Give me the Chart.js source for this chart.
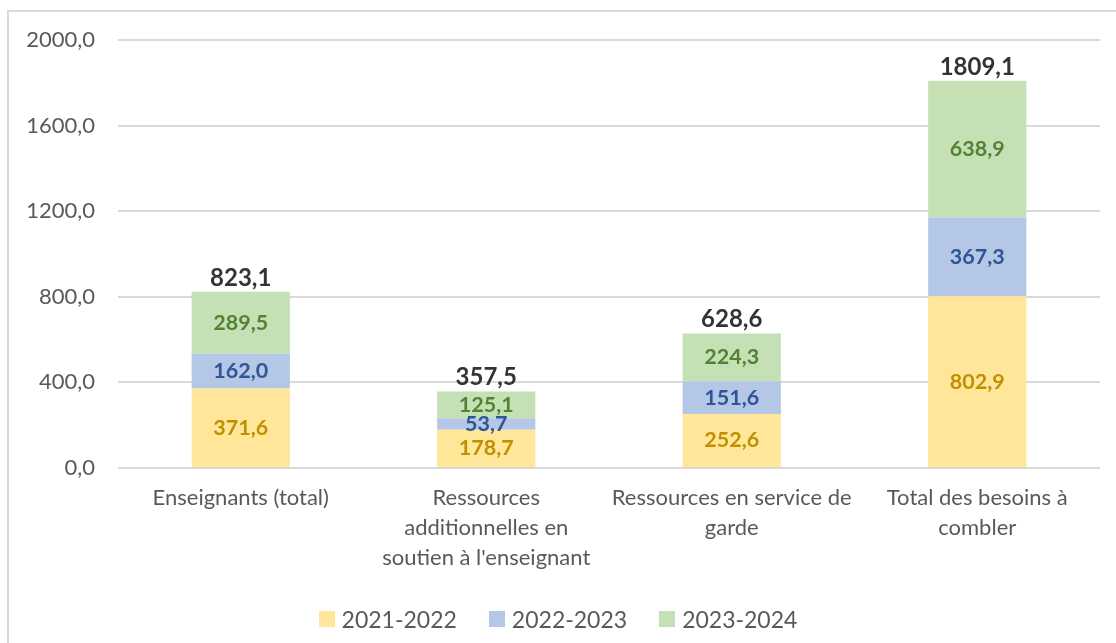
<!DOCTYPE html>
<html lang="fr">
<head>
    <meta charset="UTF-8">
    <title>Besoins à combler</title>
    <script src="https://cdn.jsdelivr.net/npm/chart.js"></script>
    <style>
        body {
            margin: 0;
            width: 1116px;
            height: 643px;
            overflow: hidden;
            background: white;
            font-family: 'Lato', 'Open Sans', sans-serif;
        }
        #frame {
            position: absolute;
            left: 7px;
            top: 10px;
            width: 1140px;
            height: 660px;
            border: 2px solid #d9d9d9;
        }
        #wrap {
            position: absolute;
            left: 0;
            top: 0;
            width: 1116px;
            height: 643px;
        }
        #legend {
            position: absolute;
            left: 0;
            top: 605px;
            width: 1116px;
            display: flex;
            justify-content: center;
            gap: 32px;
            font-size: 23px;
            color: #595959;
        }
        .item { display: flex; align-items: center; gap: 7px; }
        .box { width: 16px; height: 16px; }
    </style>
</head>
<body>
    <div id="frame"></div>
    <div id="wrap"><canvas id="chart" width="1116" height="643"></canvas></div>
    <div id="legend"></div>

    <script>
        // données
        const categories = [
            'Enseignants (total)',
            ['Ressources', 'additionnelles en', "soutien à l'enseignant"],
            ['Ressources en service de', 'garde'],
            ['Total des besoins à', 'combler']
        ];
        const seriesNames = ['2021-2022', '2022-2023', '2023-2024'];
        const values2021 = [371.6, 178.7, 252.6, 802.9];
        const values2022 = [162.0, 53.7, 151.6, 367.3];
        const values2023 = [289.5, 125.1, 224.3, 638.9];
        const totals = [823.1, 357.5, 628.6, 1809.1];

        const fillColors = ['#FFE699', '#B4C7E7', '#C5E0B4'];
        const labelColors = ['#BF9000', '#2F5597', '#548235'];

        const fmt = v => v.toFixed(1).replace('.', ',');

        // étiquettes de données (pas de plugin externe disponible)
        const barLabels = {
            id: 'barLabels',
            afterDatasetsDraw(chart) {
                const ctx = chart.ctx;
                ctx.save();
                ctx.textAlign = 'center';
                ctx.textBaseline = 'middle';
                chart.data.datasets.forEach((ds, i) => {
                    const meta = chart.getDatasetMeta(i);
                    ctx.font = 'bold 21.5px Lato';
                    ctx.fillStyle = labelColors[i];
                    meta.data.forEach((bar, j) => {
                        ctx.fillText(fmt(ds.data[j]), bar.x, (bar.y + bar.base) / 2);
                    });
                });
                const last = chart.getDatasetMeta(chart.data.datasets.length - 1);
                ctx.font = 'bold 24px Lato';
                ctx.fillStyle = '#333333';
                last.data.forEach((bar, j) => {
                    ctx.fillText(fmt(totals[j]), bar.x, bar.y - 14);
                });
                ctx.restore();
            }
        };

        const series = [values2021, values2022, values2023];
        const chart = new Chart(document.getElementById('chart'), {
            type: 'bar',
            data: {
                labels: categories,
                datasets: series.map((vals, i) => ({
                    label: seriesNames[i],
                    data: vals,
                    backgroundColor: fillColors[i],
                    categoryPercentage: 1,
                    barPercentage: 0.4
                }))
            },
            options: {
                responsive: false,
                animation: false,
                layout: { padding: { top: 40, right: 16, left: 0, bottom: 0 } },
                plugins: {
                    legend: { display: false },
                    tooltip: { enabled: false }
                },
                scales: {
                    x: {
                        stacked: true,
                        grid: { display: false, drawTicks: false },
                        border: { display: false },
                        ticks: {
                            color: '#595959',
                            font: { family: 'Lato', size: 22, lineHeight: 1.36 },
                            padding: 15,
                            maxRotation: 0,
                            autoSkip: false
                        },
                        afterFit(scale) { scale.height = 175; }
                    },
                    y: {
                        stacked: true,
                        min: 0,
                        max: 2000,
                        grid: { color: '#d9d9d9', lineWidth: 2, drawTicks: false },
                        border: { display: false },
                        ticks: {
                            stepSize: 400,
                            color: '#595959',
                            font: { family: 'Lato', size: 22 },
                            padding: 23,
                            callback: v => fmt(v)
                        },
                        afterFit(scale) { scale.width = 118; }
                    }
                }
            },
            plugins: [barLabels]
        });

        // légende en HTML
        document.getElementById('legend').innerHTML = seriesNames.map((name, i) =>
            `<div class="item"><div class="box" style="background:${fillColors[i]}"></div><span>${name}</span></div>`
        ).join('');
    </script>
</body>
</html>
